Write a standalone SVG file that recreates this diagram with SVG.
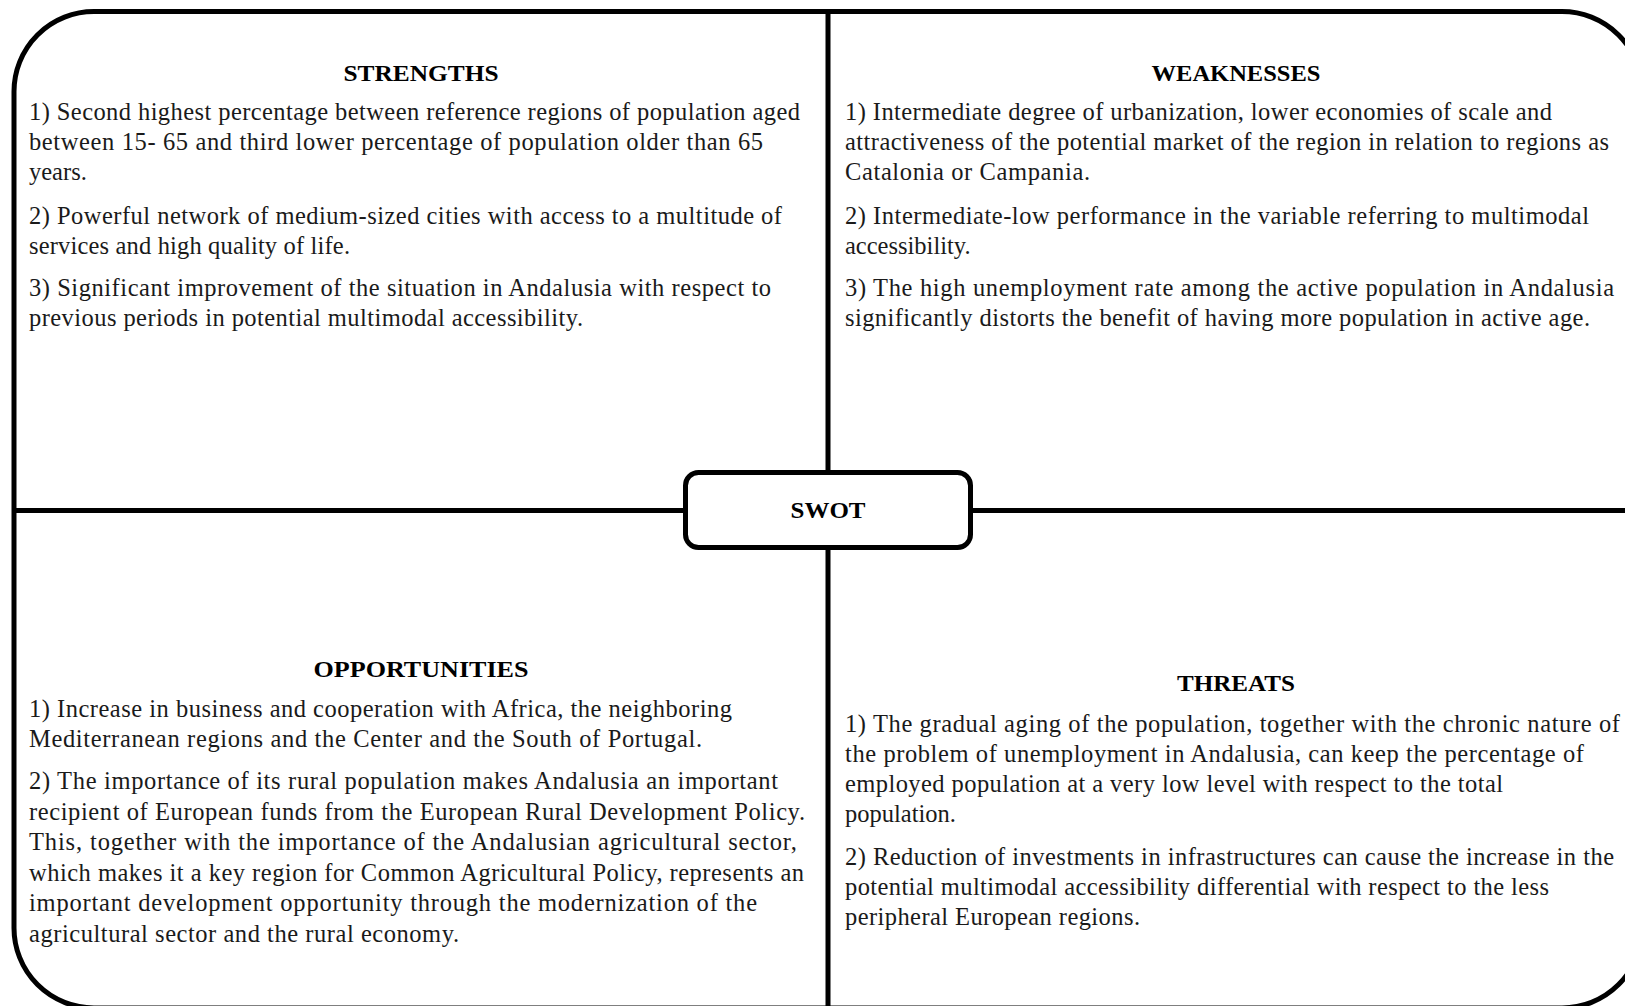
<svg xmlns="http://www.w3.org/2000/svg" width="1625" height="1006" viewBox="0 0 1625 1006">
<style>
.ln{stroke:#000;stroke-width:5;fill:none}
.t{font-family:"Liberation Serif","Times New Roman",serif;font-size:24.5px;fill:#1a1a1a}
.h{font-family:"Liberation Serif","Times New Roman",serif;font-size:24px;font-weight:bold;fill:#000;text-anchor:middle}
</style>
<rect width="1625" height="1006" fill="#fff"/>
<g id="frame">
<rect class="ln" x="14" y="11.5" width="1628" height="996.5" rx="80" ry="80"/>
</g>
<g id="connectors">
<line class="ln" x1="828" y1="11.5" x2="828" y2="1008"/>
<line class="ln" x1="14" y1="510.5" x2="1642" y2="510.5"/>
</g>
<g id="strengths">
<text class="h" x="421" y="81" textLength="155" lengthAdjust="spacingAndGlyphs">STRENGTHS</text>
<text class="t" x="29" y="120" textLength="771" lengthAdjust="spacing">1) Second highest percentage between reference regions of population aged</text>
<text class="t" x="29" y="150" textLength="734" lengthAdjust="spacing">between 15- 65 and third lower percentage of population older than 65</text>
<text class="t" x="29" y="180">years.</text>
<text class="t" x="29" y="224" textLength="753" lengthAdjust="spacing">2) Powerful network of medium-sized cities with access to a multitude of</text>
<text class="t" x="29" y="254" textLength="321" lengthAdjust="spacing">services and high quality of life.</text>
<text class="t" x="29" y="296" textLength="742" lengthAdjust="spacing">3) Significant improvement of the situation in Andalusia with respect to</text>
<text class="t" x="29" y="326" textLength="554" lengthAdjust="spacing">previous periods in potential multimodal accessibility.</text>
</g>
<g id="weaknesses">
<text class="h" x="1236" y="81" textLength="169" lengthAdjust="spacingAndGlyphs">WEAKNESSES</text>
<text class="t" x="845" y="120" textLength="707" lengthAdjust="spacing">1) Intermediate degree of urbanization, lower economies of scale and</text>
<text class="t" x="845" y="150" textLength="764" lengthAdjust="spacing">attractiveness of the potential market of the region in relation to regions as</text>
<text class="t" x="845" y="180" textLength="245" lengthAdjust="spacing">Catalonia or Campania.</text>
<text class="t" x="845" y="224" textLength="744" lengthAdjust="spacing">2) Intermediate-low performance in the variable referring to multimodal</text>
<text class="t" x="845" y="254">accessibility.</text>
<text class="t" x="845" y="296" textLength="769" lengthAdjust="spacing">3) The high unemployment rate among the active population in Andalusia</text>
<text class="t" x="845" y="326" textLength="745" lengthAdjust="spacing">significantly distorts the benefit of having more population in active age.</text>
</g>
<g id="opportunities">
<text class="h" x="421" y="677" textLength="215" lengthAdjust="spacingAndGlyphs">OPPORTUNITIES</text>
<text class="t" x="29" y="717" textLength="703" lengthAdjust="spacing">1) Increase in business and cooperation with Africa, the neighboring</text>
<text class="t" x="29" y="747" textLength="673" lengthAdjust="spacing">Mediterranean regions and the Center and the South of Portugal.</text>
<text class="t" x="29" y="789" textLength="749" lengthAdjust="spacing">2) The importance of its rural population makes Andalusia an important</text>
<text class="t" x="29" y="819.5" textLength="776" lengthAdjust="spacing">recipient of European funds from the European Rural Development Policy.</text>
<text class="t" x="29" y="850" textLength="768" lengthAdjust="spacing">This, together with the importance of the Andalusian agricultural sector,</text>
<text class="t" x="29" y="880.5" textLength="775" lengthAdjust="spacing">which makes it a key region for Common Agricultural Policy, represents an</text>
<text class="t" x="29" y="911" textLength="728" lengthAdjust="spacing">important development opportunity through the modernization of the</text>
<text class="t" x="29" y="941.5" textLength="430" lengthAdjust="spacing">agricultural sector and the rural economy.</text>
</g>
<g id="threats">
<text class="h" x="1236" y="691" textLength="118" lengthAdjust="spacingAndGlyphs">THREATS</text>
<text class="t" x="845" y="732" textLength="775" lengthAdjust="spacing">1) The gradual aging of the population, together with the chronic nature of</text>
<text class="t" x="845" y="762" textLength="739" lengthAdjust="spacing">the problem of unemployment in Andalusia, can keep the percentage of</text>
<text class="t" x="845" y="792" textLength="658" lengthAdjust="spacing">employed population at a very low level with respect to the total</text>
<text class="t" x="845" y="822">population.</text>
<text class="t" x="845" y="865" textLength="769" lengthAdjust="spacing">2) Reduction of investments in infrastructures can cause the increase in the</text>
<text class="t" x="845" y="895" textLength="704" lengthAdjust="spacing">potential multimodal accessibility differential with respect to the less</text>
<text class="t" x="845" y="925" textLength="295" lengthAdjust="spacing">peripheral European regions.</text>
</g>
<g id="swot">
<rect x="685.5" y="472.5" width="285" height="75" rx="13" ry="13" fill="#fff" stroke="#000" stroke-width="5"/>
<text class="h" x="828" y="518" textLength="75" lengthAdjust="spacingAndGlyphs">SWOT</text>
</g>
</svg>
